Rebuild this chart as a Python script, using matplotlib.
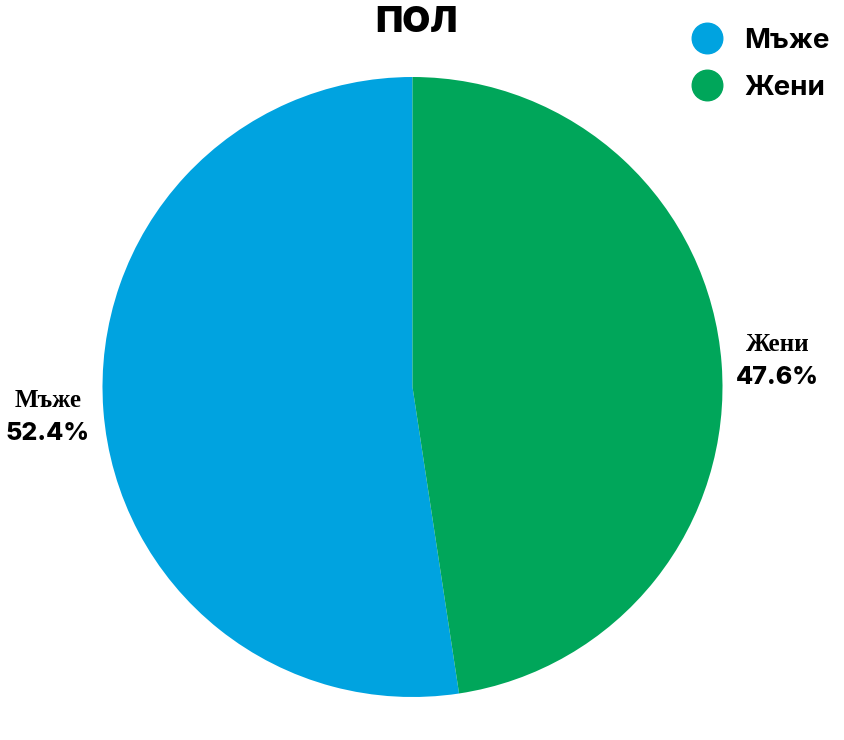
import numpy as np
import matplotlib
matplotlib.use("Agg")
import matplotlib.pyplot as plt
from matplotlib.lines import Line2D

categories = ["Мъже", "Жени"]
shares = [52.4, 47.6]
colors = ["#00A3E0", "#00A65A"]
title = "ПОЛ"

W, H = 845, 740
fig = plt.figure(figsize=(W / 100, H / 100), dpi=100)
ax = fig.add_axes([0, 0, 1, 1])

# pie centre and radius in pixels
cx, cy, r = 412.5, H - 387, 310
wedges, _ = ax.pie(shares, colors=colors, startangle=90, counterclock=True,
                   center=(cx, cy), radius=r, frame=True,
                   wedgeprops=dict(linewidth=0))
ax.set_xlim(0, W)
ax.set_ylim(0, H)
ax.set_aspect("equal")
ax.axis("off")

for w, name, val in zip(wedges, categories, shares):
    ang = np.deg2rad((w.theta1 + w.theta2) / 2)
    lx = cx + 1.18 * r * np.cos(ang)
    ly = cy + 1.18 * r * np.sin(ang)
    ax.text(lx, ly + 3, name, ha="center", va="bottom", fontsize=18,
            family="Liberation Serif", weight="bold")
    ax.text(lx, ly - 7, f"{val:.1f}%", ha="center", va="top", fontsize=18,
            family="Inter", weight=800)

fig.text(416 / W, 1 - 22 / H, title, ha="center", va="center", fontsize=26,
         family="Inter", weight=900)

handles = [Line2D([], [], marker="o", linestyle="", markersize=22,
                  markerfacecolor=c, markeredgecolor=c) for c in colors]
leg = fig.legend(handles, categories, loc="upper right",
                 bbox_to_anchor=(1 + 10 / W, 1 - 3 / H), frameon=False,
                 prop=dict(family="Inter", weight="bold", size=20),
                 handletextpad=0.75, labelspacing=0.75, handlelength=1.2)

fig.savefig("out.png", dpi=100)
